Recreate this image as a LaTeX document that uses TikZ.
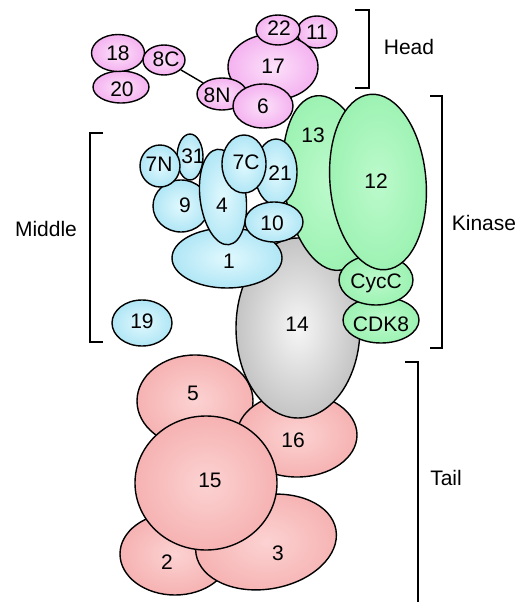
\documentclass[tikz,border=0pt]{standalone}
\usepackage{fontspec}
\setmainfont{Liberation Sans}
\usetikzlibrary{shapes.geometric}
\definecolor{pinkin}{RGB}{252,225,250}
\definecolor{pinkout}{RGB}{244,178,240}
\definecolor{bluein}{RGB}{225,249,254}
\definecolor{blueout}{RGB}{176,230,245}
\definecolor{greenin}{RGB}{188,250,204}
\definecolor{greenout}{RGB}{156,242,178}
\definecolor{grayin}{RGB}{246,246,246}
\definecolor{grayout}{RGB}{196,196,196}
\definecolor{salin}{RGB}{252,210,210}
\definecolor{salout}{RGB}{246,178,178}
\tikzset{
  blob/.style={shape=ellipse, draw=black, line width=1.4pt, inner sep=0pt, shading=radial},
  pinkb/.style={blob, inner color=pinkin, outer color=pinkout},
  blueb/.style={blob, inner color=bluein, outer color=blueout},
  greenb/.style={blob, inner color=greenin, outer color=greenout},
  grayb/.style={blob, inner color=grayin, outer color=grayout},
  salb/.style={blob, inner color=salin, outer color=salout},
  lab/.style={inner sep=0pt, font=\fontsize{21}{24}\selectfont},
  brk/.style={line width=1.6pt, black},
  link/.style={line width=1.4pt, black}
}
\begin{document}
\begin{tikzpicture}[x=1pt,y=-1pt]
\useasboundingbox (0,0) rectangle (524,602);
% Tail
\node[salb, minimum width=110pt, minimum height=82pt] (e2) at (175,554) {};
\node[salb, minimum width=142pt, minimum height=94pt, rotate=10] (e3) at (266,542) {};
\node[salb, minimum width=116pt, minimum height=92pt] (e5) at (195,401) {};
\node[salb, minimum width=120pt, minimum height=84pt] (e16) at (297,435) {};
\node[salb, minimum width=142pt, minimum height=134pt] (e15) at (206,483) {};
% 14
\node[grayb, minimum width=124pt, minimum height=180pt] (e14) at (298,328) {};
% Kinase
\node[greenb, minimum width=88pt, minimum height=176pt, rotate=8] (e13) at (328,183) {};
\node[greenb, minimum width=76pt, minimum height=46pt] (eCDK8) at (381,320) {};
\node[greenb, minimum width=74pt, minimum height=50pt] (eCycC) at (376,280) {};
\node[greenb, minimum width=96pt, minimum height=176pt, rotate=5] (e12) at (378,182) {};
% Middle
\node[blueb, minimum width=110pt, minimum height=60pt] (e1) at (227,258) {};
\node[blueb, minimum width=56pt, minimum height=52pt] (e9) at (181,206) {};
\node[blueb, minimum width=26pt, minimum height=46pt] (e31) at (190,157) {};
\node[blueb, minimum width=40pt, minimum height=42pt] (e7N) at (160,166) {};
\node[blueb, minimum width=46pt, minimum height=96pt, rotate=7] (e4) at (223,197) {};
\node[blueb, minimum width=42pt, minimum height=66pt] (e21) at (276,172) {};
\node[blueb, minimum width=44pt, minimum height=58pt] (e7C) at (244,164) {};
\node[blueb, minimum width=58pt, minimum height=40pt] (e10) at (274,222) {};
\node[blueb, minimum width=60pt, minimum height=46pt] (e19) at (142,323) {};
% Head
\node[pinkb, minimum width=56pt, minimum height=32pt] (e20) at (121,87) {};
\node[pinkb, minimum width=53pt, minimum height=37pt] (e18) at (118,53) {};
\node[pinkb, minimum width=42pt, minimum height=30pt] (e8C) at (164,60) {};
\node[pinkb, minimum width=40pt, minimum height=32pt] (e11) at (317,32) {};
\node[pinkb, minimum width=90pt, minimum height=66pt] (e17) at (273,67) {};
\node[pinkb, minimum width=44pt, minimum height=30pt] (e22) at (278,30) {};
\node[pinkb, minimum width=50pt, minimum height=32pt] (e8N) at (222,94) {};
\draw[link] (e8C) -- (e8N);
\node[pinkb, minimum width=60pt, minimum height=44pt] (e6) at (263,106) {};
% labels
\node[lab] (l18) at (118,53) {18};
\node[lab] (l20) at (122,89) {20};
\node[lab] (l8C) at (166,59) {8C};
\node[lab] (l8N) at (217,95) {8N};
\node[lab] (l6) at (263,106) {6};
\node[lab] (l17) at (273,66) {17};
\node[lab] (l22) at (279,28) {22};
\node[lab] (l11) at (317,32) {11};
\node[lab] (l7N) at (159,164) {7N};
\node[lab] (l31) at (193,156) {31};
\node[lab] (l7C) at (246,162) {7C};
\node[lab] (l21) at (280,173) {21};
\node[lab] (l9) at (185,205) {9};
\node[lab] (l4) at (222,205) {4};
\node[lab] (l10) at (272,223) {10};
\node[lab] (l1) at (229,261) {1};
\node[lab] (l19) at (142,321) {19};
\node[lab] (l14) at (297,324) {14};
\node[lab] (l13) at (313,135) {13};
\node[lab] (l12) at (376,181) {12};
\node[lab] (lCycC) at (376,283) {CycC};
\node[lab] (lCDK8) at (381,324) {CDK8};
\node[lab] (l5) at (193,393) {5};
\node[lab] (l16) at (293,440) {16};
\node[lab] (l15) at (210,480) {15};
\node[lab] (l2) at (167,562) {2};
\node[lab] (l3) at (278,553) {3};
% brackets
\coordinate (h1) at (355,10); \coordinate (h2) at (369,10);
\coordinate (h3) at (369,88); \coordinate (h4) at (355,88);
\draw[brk] (h1) -- (h2) -- (h3) -- (h4);
\node[lab] (head) at (409,47) {Head};
\coordinate (k1) at (430,96); \coordinate (k2) at (442,96);
\coordinate (k3) at (442,348); \coordinate (k4) at (430,348);
\draw[brk] (k1) -- (k2) -- (k3) -- (k4);
\node[lab] (kinase) at (484,223) {Kinase};
\coordinate (m1) at (103,133); \coordinate (m2) at (90,133);
\coordinate (m3) at (90,342); \coordinate (m4) at (103,342);
\draw[brk] (m1) -- (m2) -- (m3) -- (m4);
\node[lab] (middle) at (46,229) {Middle};
\coordinate (t1) at (405,362); \coordinate (t2) at (418,362);
\coordinate (t3) at (418,602);
\draw[brk] (t1) -- (t2) -- (t3);
\node[lab] (tail) at (446,478) {Tail};
\end{tikzpicture}
\end{document}
